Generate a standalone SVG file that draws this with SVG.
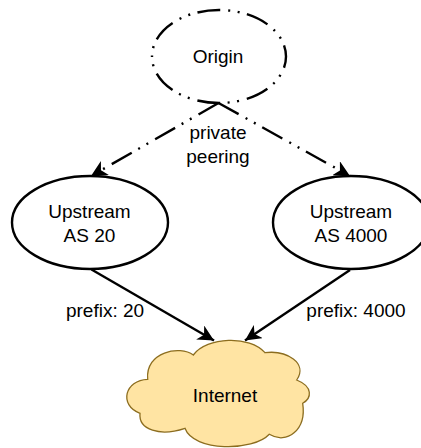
<svg xmlns="http://www.w3.org/2000/svg" width="421" height="448" viewBox="0 0 421 448">
<style>
text{font-family:"Liberation Sans",Arial,sans-serif;font-size:19px;fill:#000;text-anchor:middle}
.n{fill:#fff;stroke:#000;stroke-width:2.400}
.l{fill:none;stroke:#000;stroke-width:2.400}
.d{stroke-dasharray:23 8 2 7.5 2 7.500}
</style>
<defs>
<marker id="a" markerUnits="userSpaceOnUse" viewBox="0 0 16 16" markerWidth="16" markerHeight="16" refX="16" refY="8" orient="auto"><path d="M16 8L0 0L4.500 8L0 16Z" fill="#000"/></marker>
</defs>
<rect width="421" height="448" fill="#fff"/>
<g id="origin">
<path class="n d" stroke-dashoffset="32" d="M152 56.500A67 46.500 0 0 1 286 56.500A67 46.500 0 0 1 152 56.500Z"/>
<text x="218" y="62.500">Origin</text>
</g>
<g id="upstream-20">
<ellipse class="n" cx="90" cy="222.500" rx="78" ry="46.500"/>
<text x="89.500" y="217.500">Upstream</text>
<text x="89.500" y="241.500">AS 20</text>
</g>
<g id="upstream-4000">
<ellipse class="n" cx="351" cy="222.500" rx="78" ry="46.500"/>
<text x="351" y="217.500">Upstream</text>
<text x="351" y="241.500">AS 4000</text>
</g>
<g id="internet">
<path d="M193.300 355C206.700 336.700 250 335 265 352.700C286.700 350 308.300 363.300 296.700 380C313.300 386.700 311.700 398.300 302.700 403.300C306.700 430 286.700 445 269.300 434.300C253.300 451.700 193.300 451.700 185 428.300C160 436.700 138.300 430 140 413.300C118.300 405 125 380 147.700 379.300C145 351.700 180 345 193.300 355Z" fill="#ffe4a3" stroke="#8c6d1f" stroke-width="1.300"/>
<text x="225" y="401.500">Internet</text>
</g>
<g id="connectors">
<path class="l d" marker-end="url(#a)" d="M218.500 103L91 176"/>
<path class="l d" marker-end="url(#a)" d="M218.500 103L350 176"/>
<path class="l" marker-end="url(#a)" d="M91.500 269.500L214 340.500"/>
<path class="l" marker-end="url(#a)" d="M350 270L245 340.500"/>
<text x="218" y="139">private</text>
<text x="218" y="163">peering</text>
<text x="105" y="316.500">prefix: 20</text>
<text x="356" y="316.500">prefix: 4000</text>
</g>
</svg>
